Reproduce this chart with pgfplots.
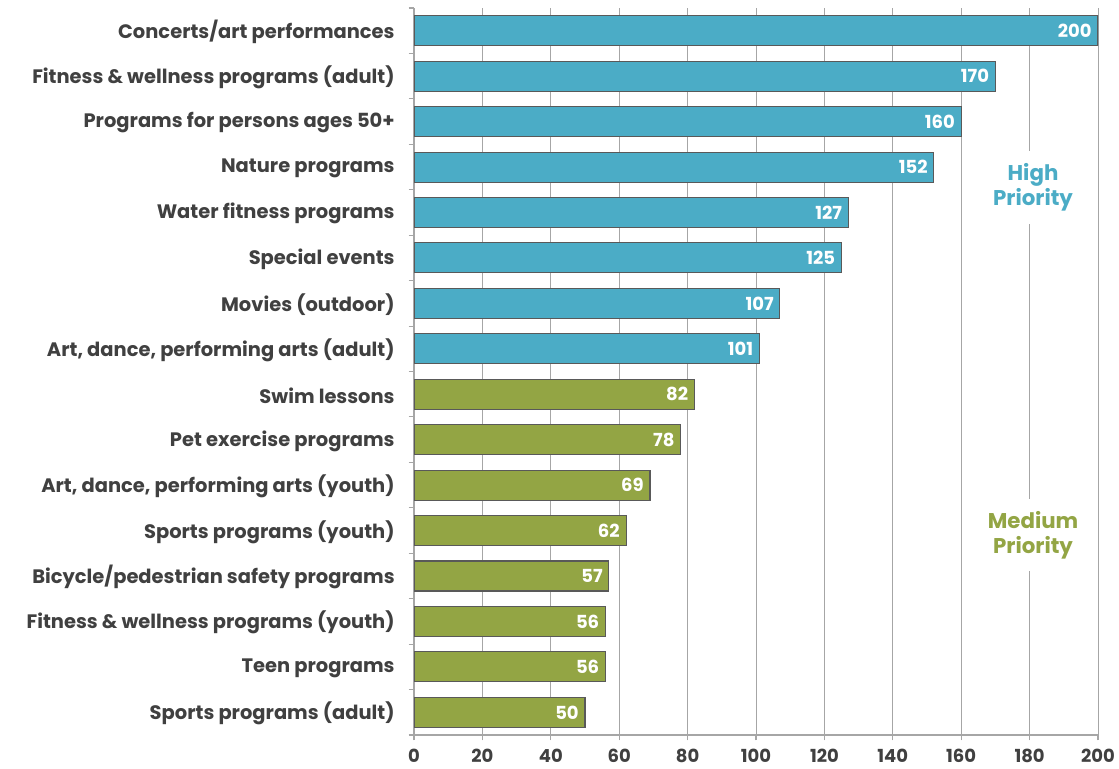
\documentclass[border=0pt]{standalone}
\usepackage{pgfplots}
\pgfplotsset{compat=1.18}
\usepackage{fontspec}
\setmainfont{Poppins}
\definecolor{hiblue}{HTML}{4BACC6}
\definecolor{medgreen}{HTML}{93A544}
\definecolor{txt}{HTML}{404040}
\definecolor{gridc}{HTML}{A6A6A6}
\definecolor{barline}{HTML}{595959}
\begin{document}
\begin{tikzpicture}
\useasboundingbox (0,0) rectangle (839.25pt,576pt);
\begin{axis}[
 at={(310.5pt,24.75pt)}, anchor=south west,
 width=513pt, height=545.25pt, scale only axis,
 xbar, bar width=22.5pt, bar shift=0pt,
 xmin=0, xmax=200, ymin=-0.5, ymax=15.5, y dir=reverse,
 xtick={0,20,...,200},
 ytick={0,...,15},
 yticklabels={Concerts/art performances, Fitness \& wellness programs (adult), Programs for persons ages 50+, Nature programs, Water fitness programs, Special events, Movies (outdoor), {Art, dance, performing arts (adult)}, Swim lessons, Pet exercise programs, {Art, dance, performing arts (youth)}, Sports programs (youth), Bicycle/pedestrian safety programs, Fitness \& wellness programs (youth), Teen programs, Sports programs (adult)},
 minor ytick={-0.5,0.5,...,15.5},
 axis x line*=bottom, axis y line*=left,
 axis line style={gridc, line width=0.8pt},
 xmajorgrids, grid style={gridc, line width=0.7pt},
 tick align=outside,
 major tick length=4pt, minor tick length=4pt,
 major y tick style={draw=none},
 minor y tick style={gridc, line width=0.8pt},
 major x tick style={gridc, line width=0.8pt},
 /pgf/number format/assume math mode=true,
 xticklabel style={font=\fontsize{13.5}{15}\selectfont\bfseries, text=txt, yshift=-3pt},
 yticklabel style={font=\fontsize{14.6}{17}\selectfont\bfseries, text=txt, xshift=-7pt, yshift=-1pt},
 nodes near coords,
 every node near coord/.append style={anchor=east, text=white, font=\fontsize{13.5}{15}\selectfont\bfseries, xshift=-1pt},
]
\addplot[fill=hiblue, draw=barline, line width=0.8pt] coordinates {
 (200,0) (170,1) (160,2) (152,3) (127,4) (125,5) (107,6) (101,7)};
\addplot[fill=medgreen, draw=barline, line width=0.8pt] coordinates {
 (82,8) (78,9) (69,10) (62,11) (57,12) (56,13) (56,14) (50,15)};
\node[fill=white, align=center, text=hiblue, font=\fontsize{16}{19}\selectfont\bfseries, inner xsep=6pt, inner ysep=9pt] at (axis cs:181,3.45) {High\\Priority};
\node[fill=white, align=center, text=medgreen, font=\fontsize{16}{19}\selectfont\bfseries, inner xsep=6pt, inner ysep=9pt] at (axis cs:181,11.1) {Medium\\Priority};
\end{axis}
\end{tikzpicture}
\end{document}
